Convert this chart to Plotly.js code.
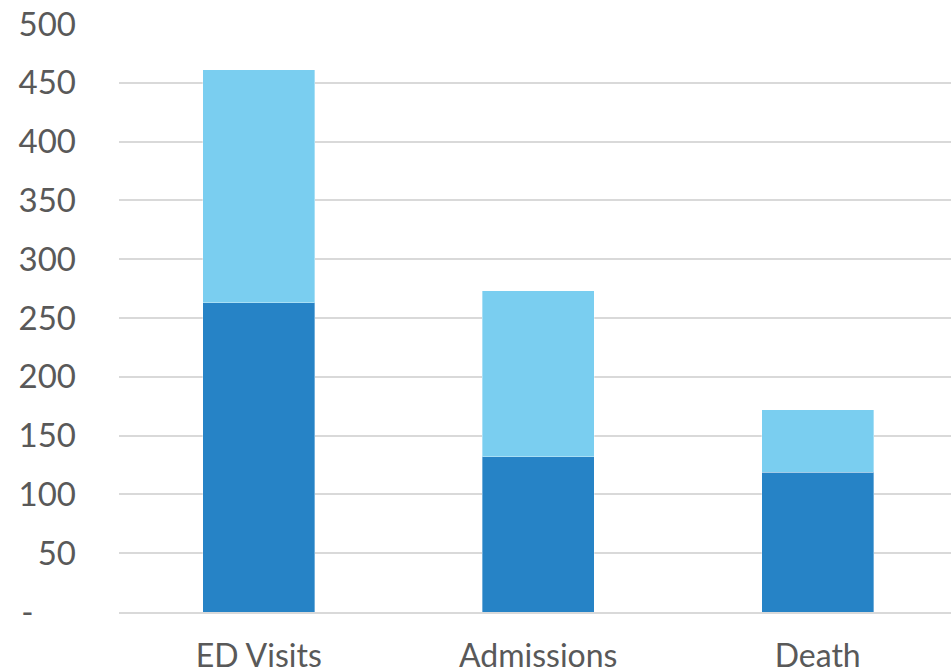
<!DOCTYPE html>
<html>
<head>
<meta charset="utf-8">
<script src="https://cdn.plot.ly/plotly-3.0.1.min.js"></script>
<style>html,body{margin:0;padding:0;background:#fff;}#chart{width:951px;height:668px;}</style>
</head>
<body>
<div id="chart"></div>
<script>
const categories = ["ED Visits", "Admissions", "Death"];
const seriesLower = [263, 132, 119];
const seriesUpper = [198, 141, 53];
const tickVals = [0, 50, 100, 150, 200, 250, 300, 350, 400, 450, 500];
const tickText = ["-\u2007\u2007\u2009", "50", "100", "150", "200", "250", "300", "350", "400", "450", "500"];

const fontFamily = "Lato, 'Open Sans', sans-serif";
const traces = [
  {type: "bar", x: categories, y: seriesLower, name: "Lower",
   marker: {color: "#2683c6", line: {color: "rgba(255,255,255,0.35)", width: 1}}},
  {type: "bar", x: categories, y: seriesUpper, name: "Upper",
   marker: {color: "#7acef0", line: {color: "rgba(255,255,255,0.35)", width: 1}}}
];
const layout = {
  width: 951, height: 668,
  barmode: "stack", bargap: 0.6,
  showlegend: false,
  paper_bgcolor: "#fff", plot_bgcolor: "#fff",
  margin: {l: 119, r: 0, t: 24, b: 56},
  font: {family: fontFamily, color: "#595959", size: 31},
  xaxis: {range: [-0.5, 2.477], showgrid: false, showline: true, linecolor: "#d9d9d9", linewidth: 2,
          ticks: "", ticklabelstandoff: 15, tickfont: {size: 32, color: "#595959"}},
  yaxis: {range: [0, 500], tickvals: tickVals, ticktext: tickText, showgrid: true,
          gridcolor: "#d9d9d9", gridwidth: 2, zeroline: false, showline: false,
          ticks: "", ticklabelstandoff: 42, tickfont: {size: 33, color: "#595959"}}
};
Plotly.newPlot("chart", traces, layout, {displayModeBar: false, staticPlot: true});
</script>
</body>
</html>
